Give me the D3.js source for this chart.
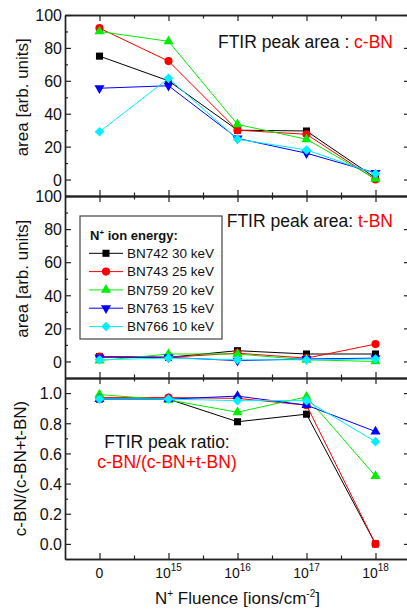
<!DOCTYPE html>
<html>
<head>
<meta charset="utf-8">
<script src="https://cdn.jsdelivr.net/npm/d3@7"></script>
<style>
  html, body { margin: 0; padding: 0; background: #fff; }
  svg { display: block; font-family: "Liberation Sans", Arial, sans-serif; }
</style>
</head>
<body>
<svg id="chart" width="407" height="610"></svg>
<script>
// ── Data ────────────────────────────────────────────────────────────────
const fluenceExp = [null, 15, 16, 17, 18];      // x categories: 0, 10^15 ... 10^18
const sampleNames = ['BN742 30 keV', 'BN743 25 keV', 'BN759 20 keV', 'BN763 15 keV', 'BN766 10 keV'];

// FTIR peak area c-BN [arb. units]
const cbnArea = [
  [75, 60, 30, 29.5, 1],
  [92, 72, 30, 27.5, 0],
  [90, 84, 33.5, 24.5, 0.5],
  [55.5, 57, 25, 16, 4],
  [29, 61.5, 24.5, 18, 3.5]
];
// FTIR peak area t-BN [arb. units]
const tbnArea = [
  [3, 2.5, 6.5, 4.5, 4.5],
  [3, 2.5, 5, 2, 10.5],
  [0.5, 4.5, 4.5, 1, 0],
  [2.5, 2.5, 0.5, 1.5, 2],
  [1, 2, 1, 1, 1.5]
];
// ratio c-BN/(c-BN+t-BN)
const peakRatio = [
  [0.96, 0.96, 0.81, 0.86, 0],
  [0.97, 0.97, 0.965, 0.92, 0],
  [0.99, 0.955, 0.873, 0.975, 0.45],
  [0.96, 0.96, 0.98, 0.92, 0.745],
  [0.96, 0.96, 0.95, 0.95, 0.678]
];

const areaTicks = [0, 20, 40, 60, 80, 100];
const areaMinor = [10, 30, 50, 70, 90];
const ratioTicks = [0, 0.2, 0.4, 0.6, 0.8, 1.0];
const ratioMinor = [0.1, 0.3, 0.5, 0.7, 0.9];

// ── Styles ──────────────────────────────────────────────────────────────
const COLORS = ['#000000', '#ff0000', '#00ee00', '#0000ff', '#00f0ff'];
const SHAPES = ['square', 'circle', 'up', 'down', 'diamond'];
const FONT = '"Liberation Sans", Arial, sans-serif';
const AXIS_COLOR = '#222';

const LEFT = 65, RIGHT = 410;
const svg = d3.select('#chart');

const x = d3.scaleLinear().domain([-0.5, 4.5]).range([LEFT, RIGHT]);
const idx = d3.range(fluenceExp.length);

const panels = [
  { data: cbnArea, y: d3.scaleLinear().domain([-10, 100]).range([196, 15]), ticks: areaTicks, minor: areaMinor, fmt: d3.format('d') },
  { data: tbnArea, y: d3.scaleLinear().domain([-10, 100]).range([378, 196]), ticks: areaTicks, minor: areaMinor, fmt: d3.format('d') },
  { data: peakRatio, y: d3.scaleLinear().domain([-0.1, 1.1]).range([559, 378]), ticks: ratioTicks, minor: ratioMinor, fmt: d3.format('.1f'), upBlue: true }
];

function symbolPath(shape) {
  switch (shape) {
    case 'square': return { d: d3.symbol(d3.symbolSquare, 50)(), rot: 0 };
    case 'circle': return { d: d3.symbol(d3.symbolCircle, 52)(), rot: 0 };
    case 'up': return { d: d3.symbol(d3.symbolTriangle, 44)(), rot: 0 };
    case 'down': return { d: d3.symbol(d3.symbolTriangle, 44)(), rot: 180 };
    case 'diamond': return { d: d3.symbol(d3.symbolSquare, 46)(), rot: 45 };
  }
}

function styleAxis(gAxis) {
  gAxis.select('.domain').attr('stroke', AXIS_COLOR).attr('stroke-width', 1.4);
  gAxis.selectAll('.tick line').attr('stroke', AXIS_COLOR).attr('stroke-width', 1.2);
  gAxis.selectAll('text')
    .attr('fill', '#111')
    .attr('font-family', FONT)
    .attr('font-size', '16px');
}

// ── Panels ──────────────────────────────────────────────────────────────
panels.forEach((p, pi) => {
  const y = p.y;
  const top = y.range()[1], bottom = y.range()[0];
  const g = svg.append('g').attr('class', 'panel');

  // y axes (left labelled, right ticks only)
  const yl = g.append('g').attr('transform', `translate(${LEFT},0)`)
    .call(d3.axisLeft(y).tickValues(p.ticks).tickSize(-6).tickSizeOuter(0).tickPadding(3).tickFormat(p.fmt));
  styleAxis(yl);
  yl.selectAll('text').attr('dy', '0.36em');
  const ylm = g.append('g').attr('transform', `translate(${LEFT},0)`)
    .call(d3.axisLeft(y).tickValues(p.minor).tickSize(-3).tickSizeOuter(0).tickFormat(''));
  styleAxis(ylm);

  const yr = g.append('g').attr('transform', `translate(${RIGHT},0)`)
    .call(d3.axisRight(y).tickValues(p.ticks).tickSize(-6).tickSizeOuter(0).tickFormat(''));
  styleAxis(yr);
  const yrm = g.append('g').attr('transform', `translate(${RIGHT},0)`)
    .call(d3.axisRight(y).tickValues(p.minor).tickSize(-3).tickSizeOuter(0).tickFormat(''));
  styleAxis(yrm);

  // x axes top & bottom, inward ticks
  [[d3.axisTop, top], [d3.axisBottom, bottom]].forEach(([ax, yy]) => {
    const xa = g.append('g').attr('transform', `translate(0,${yy})`)
      .call(ax(x).tickValues(idx).tickSize(-6).tickSizeOuter(0).tickFormat(''));
    styleAxis(xa);
    const xm = g.append('g').attr('transform', `translate(0,${yy})`)
      .call(ax(x).tickValues([0.5, 1.5, 2.5, 3.5]).tickSize(-3.5).tickSizeOuter(0).tickFormat(''));
    styleAxis(xm);
  });

  // series
  const line = d3.line().x((d, i) => x(i)).y(d => y(d));
  p.data.forEach((vals, si) => {
    const sg = g.append('g').attr('class', 'series');
    sg.append('path')
      .attr('d', line(vals))
      .attr('fill', 'none')
      .attr('stroke', COLORS[si])
      .attr('stroke-width', 1);
    const shape = (p.upBlue && SHAPES[si] === 'down') ? 'up' : SHAPES[si];
    const sym = symbolPath(shape);
    sg.selectAll('path.marker')
      .data(vals)
      .join('path')
      .attr('class', 'marker')
      .attr('d', sym.d)
      .attr('transform', (d, i) => `translate(${x(i)},${y(d)}) rotate(${sym.rot})`)
      .attr('fill', COLORS[si]);
  });
});

// ── x tick labels (bottom panel) ─────────────────────────────────────────
const xLab = svg.append('g').attr('font-family', FONT).attr('fill', '#111');
idx.forEach(i => {
  const t = xLab.append('text')
    .attr('x', x(i))
    .attr('y', 578)
    .attr('text-anchor', 'middle')
    .attr('font-size', '14px');
  if (fluenceExp[i] === null) {
    t.text('0');
  } else {
    t.append('tspan').text('10');
    t.append('tspan').attr('dy', -7).attr('font-size', '10px').text(fluenceExp[i]);
  }
});

// ── axis titles ─────────────────────────────────────────────────────────
const xt = svg.append('text')
  .attr('x', (LEFT + RIGHT) / 2)
  .attr('y', 604)
  .attr('text-anchor', 'middle')
  .attr('font-family', FONT)
  .attr('font-size', '17px')
  .attr('fill', '#111');
xt.append('tspan').text('N');
xt.append('tspan').attr('dy', -7).attr('font-size', '10px').text('+');
xt.append('tspan').attr('dy', 7).text(' Fluence [ions/cm');
xt.append('tspan').attr('dy', -7).attr('font-size', '10px').text('-2');
xt.append('tspan').attr('dy', 7).text(']');

const yTitles = [
  { text: 'area [arb. units]', x: 28, y: (panels[0].y(0) + panels[0].y(100)) / 2 },
  { text: 'area [arb. units]', x: 28, y: (panels[1].y(0) + panels[1].y(100)) / 2 },
  { text: 'c-BN/(c-BN+t-BN)', x: 26, y: (panels[2].y(0) + panels[2].y(1)) / 2 }
];
yTitles.forEach(t => {
  svg.append('text')
    .attr('transform', `translate(${t.x},${t.y}) rotate(-90)`)
    .attr('text-anchor', 'middle')
    .attr('font-family', FONT)
    .attr('font-size', '17px')
    .attr('fill', '#111')
    .text(t.text);
});

// ── annotations ─────────────────────────────────────────────────────────
function annot(xx, yy, anchor, parts) {
  const t = svg.append('text')
    .attr('x', xx).attr('y', yy)
    .attr('text-anchor', anchor)
    .attr('font-family', FONT)
    .attr('font-size', '17.5px');
  parts.forEach(([s, c]) => t.append('tspan').attr('fill', c).text(s));
}
annot(393, 48, 'end', [['FTIR peak area : ', '#111'], ['c-BN', '#ff0000']]);
annot(393, 227, 'end', [['FTIR peak area: ', '#111'], ['t-BN', '#ff0000']]);
annot(167, 448, 'middle', [['FTIR peak ratio:', '#111']]);
annot(167, 468, 'middle', [['c-BN/(c-BN+t-BN)', '#ff0000']]);

// ── legend ──────────────────────────────────────────────────────────────
const lg = svg.append('g').attr('font-family', FONT);
lg.append('rect')
  .attr('x', 80).attr('y', 216)
  .attr('width', 142).attr('height', 123)
  .attr('fill', '#fff')
  .attr('stroke', '#444')
  .attr('stroke-width', 1.2);
const lt = lg.append('text')
  .attr('x', 90).attr('y', 240)
  .attr('font-size', '13px')
  .attr('font-weight', 'bold')
  .attr('fill', '#111');
lt.append('tspan').text('N');
lt.append('tspan').attr('dy', -5).attr('font-size', '8px').text('+');
lt.append('tspan').attr('dy', 5).text(' ion energy:');

sampleNames.forEach((name, si) => {
  const yy = 253.3 + si * 18.3;
  lg.append('line')
    .attr('x1', 89).attr('x2', 123)
    .attr('y1', yy).attr('y2', yy)
    .attr('stroke', COLORS[si]).attr('stroke-width', 1);
  const sym = symbolPath(SHAPES[si]);
  lg.append('path')
    .attr('d', sym.d)
    .attr('transform', `translate(106,${yy}) rotate(${sym.rot})`)
    .attr('fill', COLORS[si]);
  lg.append('text')
    .attr('x', 127).attr('y', yy)
    .attr('dy', '0.36em')
    .attr('font-size', '13.5px')
    .attr('fill', '#111')
    .text(name);
});
</script>
</body>
</html>
